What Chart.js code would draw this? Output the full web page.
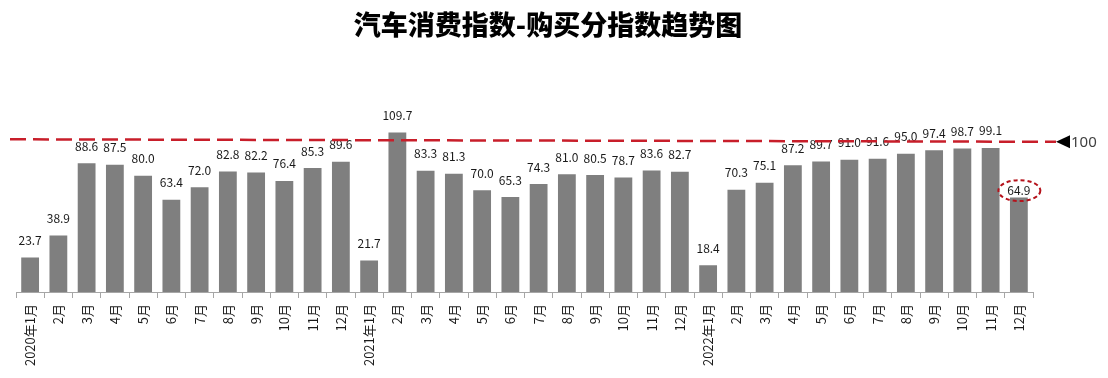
<!DOCTYPE html>
<html>
<head>
<meta charset="utf-8">
<script src="https://cdn.jsdelivr.net/npm/chart.js@4"></script>
<style>
  body { margin: 0; background: #fff; }
  #wrap { width: 1108px; height: 378px; }
</style>
</head>
<body>
<div id="wrap"><canvas id="barChart"></canvas></div>
<script>
var months = ['2020年1月', '2月', '3月', '4月', '5月', '6月', '7月', '8月', '9月', '10月', '11月', '12月',
              '2021年1月', '2月', '3月', '4月', '5月', '6月', '7月', '8月', '9月', '10月', '11月', '12月',
              '2022年1月', '2月', '3月', '4月', '5月', '6月', '7月', '8月', '9月', '10月', '11月', '12月'];
var indexValues = [23.7, 38.9, 88.6, 87.5, 80.0, 63.4, 72.0, 82.8, 82.2, 76.4, 85.3, 89.6,
                   21.7, 109.7, 83.3, 81.3, 70.0, 65.3, 74.3, 81.0, 80.5, 78.7, 83.6, 82.7,
                   18.4, 70.3, 75.1, 87.2, 89.7, 91.0, 91.6, 95.0, 97.4, 98.7, 99.1, 64.9];
// the reference line is drawn slightly tilted in the picture
var refLineStart = 105.0;
var refLineEnd = 103.3;
var refLabel = '100';
var highlightIndex = 35;
var chartTitle = '汽车消费指数-购买分指数趋势图';

// title drawn by hand so it is centred on the page, not on the plot
var pageTitle = {
    id: 'pageTitle',
    afterDraw: function(chart) {
        var ctx = chart.ctx;
        ctx.save();
        ctx.font = '900 27px "Noto Sans CJK SC", sans-serif';
        ctx.fillStyle = '#000';
        ctx.textAlign = 'center';
        ctx.textBaseline = 'middle';
        ctx.fillText(chartTitle, 548, 25);
        ctx.restore();
    }
};

var valueLabels = {
    id: 'valueLabels',
    afterDatasetsDraw: function(chart) {
        var ctx = chart.ctx;
        var meta = chart.getDatasetMeta(0);
        ctx.save();
        ctx.font = '12px "Noto Sans CJK SC", "Noto Sans", sans-serif';
        ctx.fillStyle = '#1a1a1a';
        ctx.textAlign = 'center';
        ctx.textBaseline = 'middle';
        meta.data.forEach(function(bar, i) {
            var txt = indexValues[i].toFixed(1);
            if (i === highlightIndex) {
                ctx.fillText(txt, bar.x, bar.y - 7);
                ctx.strokeStyle = '#b5121b';
                ctx.lineWidth = 2;
                ctx.setLineDash([4, 3]);
                ctx.beginPath();
                ctx.ellipse(bar.x + 0.5, bar.y - 7, 21, 10.5, 0, 0, Math.PI * 2);
                ctx.stroke();
                ctx.setLineDash([]);
            } else {
                ctx.fillText(txt, bar.x, bar.y - 17);
            }
        });
        ctx.restore();
    }
};

var refLine = {
    id: 'refLine',
    afterDraw: function(chart) {
        var ctx = chart.ctx;
        var area = chart.chartArea;
        var y = chart.scales.y;
        var x0 = area.left - 6;
        var x1 = area.right + 23;
        var y0 = y.getPixelForValue(refLineStart);
        var y1 = y.getPixelForValue(refLineEnd);
        ctx.save();
        ctx.strokeStyle = '#c81e2a';
        ctx.lineWidth = 2.5;
        ctx.setLineDash([16, 7]);
        ctx.beginPath();
        ctx.moveTo(x0, y0);
        ctx.lineTo(x1, y1);
        ctx.stroke();
        ctx.setLineDash([]);
        // arrow head and label
        ctx.fillStyle = '#000';
        ctx.beginPath();
        ctx.moveTo(x1, y1);
        ctx.lineTo(x1 + 14, y1 - 6.5);
        ctx.lineTo(x1 + 14, y1 + 6.5);
        ctx.closePath();
        ctx.fill();
        ctx.fillStyle = '#404040';
        ctx.font = '15px "Noto Sans", sans-serif';
        ctx.textAlign = 'left';
        ctx.textBaseline = 'middle';
        ctx.fillText(refLabel, x1 + 15, y1 + 1);
        ctx.restore();
    }
};

window.onload = function() {
    var ctx = document.getElementById('barChart').getContext('2d');
    var barChart = new Chart(ctx, {
        type: 'bar',
        data: {
            labels: months,
            datasets: [{
                data: indexValues,
                backgroundColor: '#7f7f7f',
                categoryPercentage: 1,
                barPercentage: 0.63
            }]
        },
        options: {
            responsive: true,
            maintainAspectRatio: false,
            animation: false,
            layout: {
                padding: { left: 16, right: 75, top: 117.5, bottom: 0 }
            },
            plugins: {
                legend: { display: false },
                tooltip: { enabled: false },
                title: { display: false }
            },
            scales: {
                x: {
                    afterFit: function(scale) { scale.height = 86; },
                    grid: {
                        display: true,
                        offset: true,
                        drawOnChartArea: false,
                        drawTicks: true,
                        tickLength: 6,
                        color: '#a6a6a6'
                    },
                    border: { display: true, color: '#a6a6a6' },
                    ticks: {
                        autoSkip: false,
                        minRotation: 90,
                        maxRotation: 90,
                        padding: 6,
                        color: '#1a1a1a',
                        font: { family: '"Noto Sans CJK SC", sans-serif', size: 13 }
                    }
                },
                y: {
                    display: false,
                    min: 0,
                    max: 120
                }
            }
        },
        plugins: [valueLabels, refLine, pageTitle]
    });
};
</script>
</body>
</html>
